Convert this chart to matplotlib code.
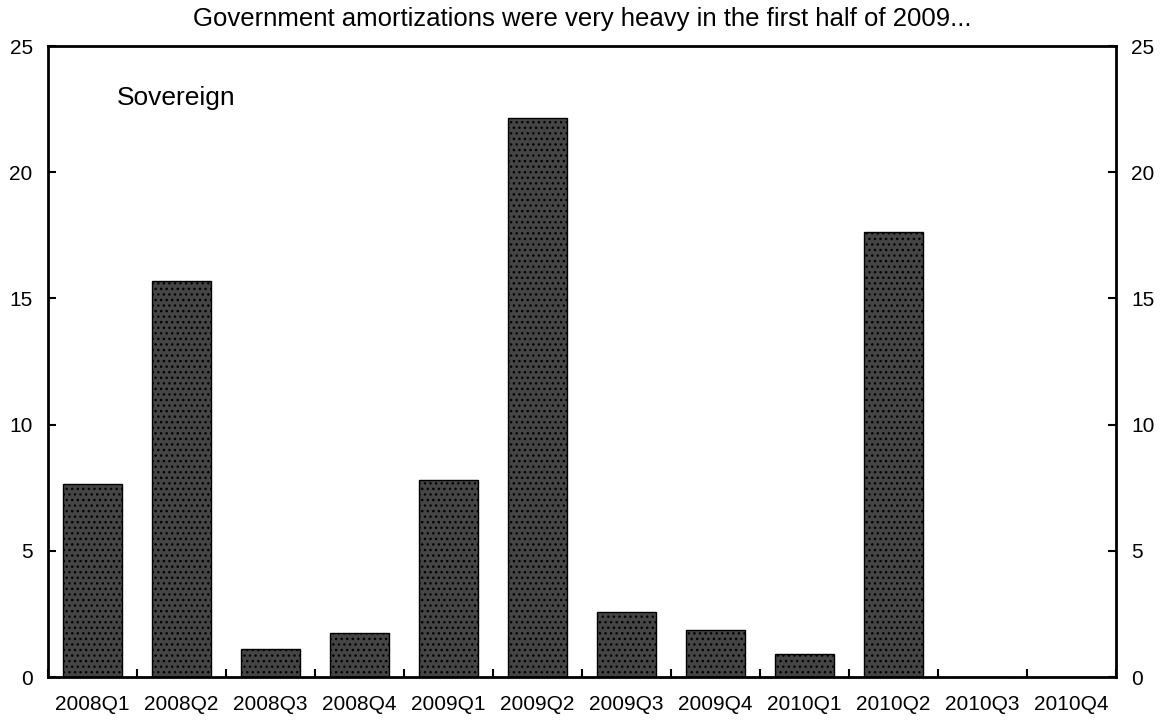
import numpy as np
import matplotlib
matplotlib.use("Agg")
from matplotlib import pyplot as plt

quarters = ["2008Q1", "2008Q2", "2008Q3", "2008Q4", "2009Q1", "2009Q2",
            "2009Q3", "2009Q4", "2010Q1", "2010Q2", "2010Q3", "2010Q4"]
sovereign = [7.65, 15.7, 1.1, 1.75, 7.8, 22.15, 2.57, 1.88, 0.9, 17.65, 0.0, 0.0]
yticks = [0, 5, 10, 15, 20, 25]

plt.rcParams['font.family'] = ['Liberation Sans', 'DejaVu Sans']
plt.rcParams['hatch.color'] = '#111111'
plt.rcParams['hatch.linewidth'] = 1.0

fig = plt.figure(figsize=(11.65, 7.21), dpi=100)
ax = fig.add_axes([0.0412, 0.061, 0.9168, 0.875])

x = np.arange(len(quarters))
ax.bar(x, sovereign, width=0.67, color='#454545', edgecolor='black',
       linewidth=1.0, hatch='...')

ax.set_xlim(-0.5, len(quarters) - 0.5)
ax.set_ylim(0, 25)
ax.set_yticks(yticks)
ax.set_xticks(x)
ax.set_xticklabels(quarters, fontsize=15)
ax.set_xticks(np.arange(len(quarters) + 1) - 0.5, minor=True)
ax.tick_params(axis='x', which='major', length=0, pad=13)
ax.tick_params(axis='x', which='minor', direction='in', length=6, width=1.5)
ax.tick_params(axis='y', direction='in', length=6, width=1.5, labelsize=15,
               left=True, right=True, labelleft=True, labelright=True, pad=11)
for s in ax.spines.values():
    s.set_linewidth(2)

ax.text(117 / 1165, 1 - 98 / 721, "Sovereign", transform=fig.transFigure,
        fontsize=19, va='center', ha='left')
fig.text(0.5, 1 - 26 / 721,
         "Government amortizations were very heavy in the first half of 2009...",
         fontsize=18.5, ha='center', va='baseline')

fig.savefig("out.png", dpi=100)
